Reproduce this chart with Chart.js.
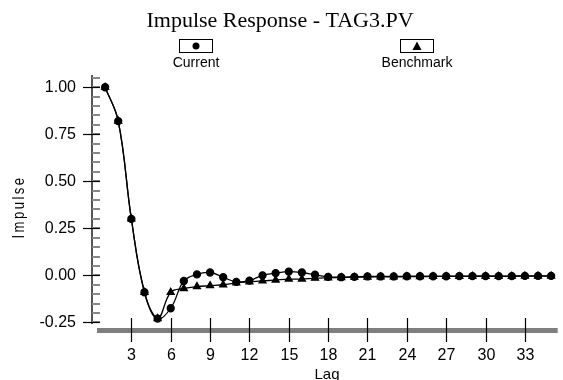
<!DOCTYPE html>
<html lang="en">
<head>
    <meta charset="UTF-8">
    <title>Impulse Response - TAG3.PV</title>
    <style>
        body { margin: 0; background: #ffffff; }
        .container { width: 563px; height: 380px; }
    </style>
</head>
<body>
    <div class="container">
        <canvas id="impulseChart" width="563" height="380"></canvas>
    </div>

    <script src="https://cdn.jsdelivr.net/npm/chart.js"></script>
    <script>
        const lags = [];
        for (let i = 1; i <= 35; i++) lags.push(i);

        const currentValues = [1.00, 0.82, 0.30, -0.09, -0.23, -0.175, -0.03, 0.005, 0.015, -0.01,
            -0.035, -0.028, 0.0, 0.012, 0.02, 0.015, 0.003, -0.008, -0.01, -0.008,
            -0.006, -0.006, -0.006, -0.005, -0.005, -0.005, -0.005, -0.004, -0.004, -0.004,
            -0.004, -0.004, -0.003, -0.003, -0.003];
        const benchmarkValues = [1.00, 0.82, 0.30, -0.09, -0.23, -0.09, -0.07, -0.06, -0.055, -0.05,
            -0.04, -0.035, -0.03, -0.025, -0.02, -0.02, -0.015, -0.013, -0.012, -0.01,
            -0.009, -0.008, -0.008, -0.007, -0.007, -0.006, -0.006, -0.006, -0.005, -0.005,
            -0.005, -0.005, -0.004, -0.004, -0.004];
        const xTicks = [3, 6, 9, 12, 15, 18, 21, 24, 27, 30, 33];
        const yTicks = [-0.25, 0, 0.25, 0.5, 0.75, 1.0];

        const sans = "'Liberation Sans', Arial, sans-serif";

        // axes, ticks, title and legend boxes drawn by hand to look like the original
        const decorations = {
            id: 'decorations',
            afterDraw(chart) {
                const ctx = chart.ctx;
                const area = chart.chartArea;
                const xs = chart.scales.x, ys = chart.scales.y;
                ctx.save();

                // title
                ctx.fillStyle = '#000';
                ctx.font = "22px 'Liberation Serif', 'Times New Roman', serif";
                ctx.textAlign = 'center';
                ctx.textBaseline = 'alphabetic';
                ctx.fillText('Impulse Response - TAG3.PV', 280, 27);

                // legend
                const legendItems = [
                    { label: 'Current', cx: 196, shape: 'circle' },
                    { label: 'Benchmark', cx: 417, shape: 'triangle' }
                ];
                legendItems.forEach(item => {
                    ctx.fillStyle = '#fff';
                    ctx.strokeStyle = '#000';
                    ctx.lineWidth = 1;
                    ctx.fillRect(item.cx - 17, 39, 34, 14);
                    ctx.strokeRect(item.cx - 16.5, 39.5, 33, 13);
                    ctx.fillStyle = '#000';
                    ctx.beginPath();
                    if (item.shape === 'circle') {
                        ctx.arc(item.cx, 46, 3.5, 0, Math.PI * 2);
                    } else {
                        ctx.moveTo(item.cx, 41.5);
                        ctx.lineTo(item.cx + 4.5, 50);
                        ctx.lineTo(item.cx - 4.5, 50);
                        ctx.closePath();
                    }
                    ctx.fill();
                    ctx.font = '14px ' + sans;
                    ctx.textAlign = 'center';
                    ctx.textBaseline = 'middle';
                    ctx.fillText(item.label, item.cx, 63);
                });

                // y axis line
                ctx.fillStyle = '#555';
                ctx.fillRect(area.left - 1, area.top, 2, area.bottom - area.top - 4);

                // y minor ticks
                ctx.strokeStyle = '#888';
                ctx.lineWidth = 2;
                for (let v = -0.25; v <= 1.06; v += 0.05) {
                    const y = Math.round(ys.getPixelForValue(v));
                    ctx.beginPath();
                    ctx.moveTo(area.left, y);
                    ctx.lineTo(area.left + 8, y);
                    ctx.stroke();
                }
                // y major ticks
                ctx.strokeStyle = '#000';
                ctx.lineWidth = 1.2;
                ctx.fillStyle = '#000';
                ctx.font = '16px ' + sans;
                ctx.textAlign = 'right';
                ctx.textBaseline = 'middle';
                yTicks.forEach(v => {
                    const y = Math.round(ys.getPixelForValue(v)) + 0.5;
                    ctx.beginPath();
                    ctx.moveTo(area.left - 9, y);
                    ctx.lineTo(area.left + 8, y);
                    ctx.stroke();
                    ctx.fillText(v.toFixed(2), area.left - 16, y);
                });

                // x axis band
                ctx.fillStyle = '#7f7f7f';
                ctx.fillRect(area.left + 5, area.bottom, area.right - area.left - 5, 5);

                // x ticks
                ctx.strokeStyle = '#000';
                ctx.lineWidth = 1.2;
                ctx.fillStyle = '#000';
                ctx.textAlign = 'center';
                ctx.textBaseline = 'middle';
                xTicks.forEach(v => {
                    const x = Math.round(xs.getPixelForValue(v)) + 0.5;
                    ctx.beginPath();
                    ctx.moveTo(x, area.bottom - 10);
                    ctx.lineTo(x, area.bottom + 14);
                    ctx.stroke();
                    ctx.fillText(String(v), x, area.bottom + 28);
                });
                ctx.font = '15px ' + sans;
                ctx.fillText('Lag', 327, area.bottom + 47);

                // y axis title
                ctx.translate(20, 207);
                ctx.rotate(-Math.PI / 2);
                ctx.scale(0.82, 1);
                ctx.font = '16px ' + sans;
                ctx.letterSpacing = '3px';
                ctx.fillText('Impulse', 0, 0);
                ctx.restore();
            }
        };

        const ctx = document.getElementById('impulseChart').getContext('2d');
        new Chart(ctx, {
            type: 'line',
            data: {
                datasets: [{
                    label: 'Current',
                    data: lags.map((l, i) => ({ x: l, y: currentValues[i] })),
                    borderColor: '#000',
                    backgroundColor: '#000',
                    borderWidth: 1.3,
                    pointStyle: 'circle',
                    pointRadius: 3.5,
                    tension: 0.4,
                    fill: false
                }, {
                    label: 'Benchmark',
                    data: lags.map((l, i) => ({ x: l, y: benchmarkValues[i] })),
                    borderColor: '#000',
                    backgroundColor: '#000',
                    borderWidth: 1.3,
                    pointStyle: 'triangle',
                    pointRadius: 4,
                    tension: 0.4,
                    fill: false
                }]
            },
            options: {
                responsive: false,
                animation: false,
                layout: { padding: { top: 75, left: 0, right: 0, bottom: 0 } },
                plugins: {
                    legend: { display: false },
                    title: { display: false },
                    tooltip: { enabled: false }
                },
                scales: {
                    x: {
                        type: 'linear',
                        min: 0,
                        max: 35.5,
                        grid: { display: false },
                        border: { display: false },
                        ticks: { display: false },
                        afterFit: s => { s.height = 52; }
                    },
                    y: {
                        min: -0.28,
                        max: 1.065,
                        grid: { display: false },
                        border: { display: false },
                        ticks: { display: false },
                        afterFit: s => { s.width = 92; }
                    }
                }
            },
            plugins: [decorations]
        });
    </script>
</body>
</html>
